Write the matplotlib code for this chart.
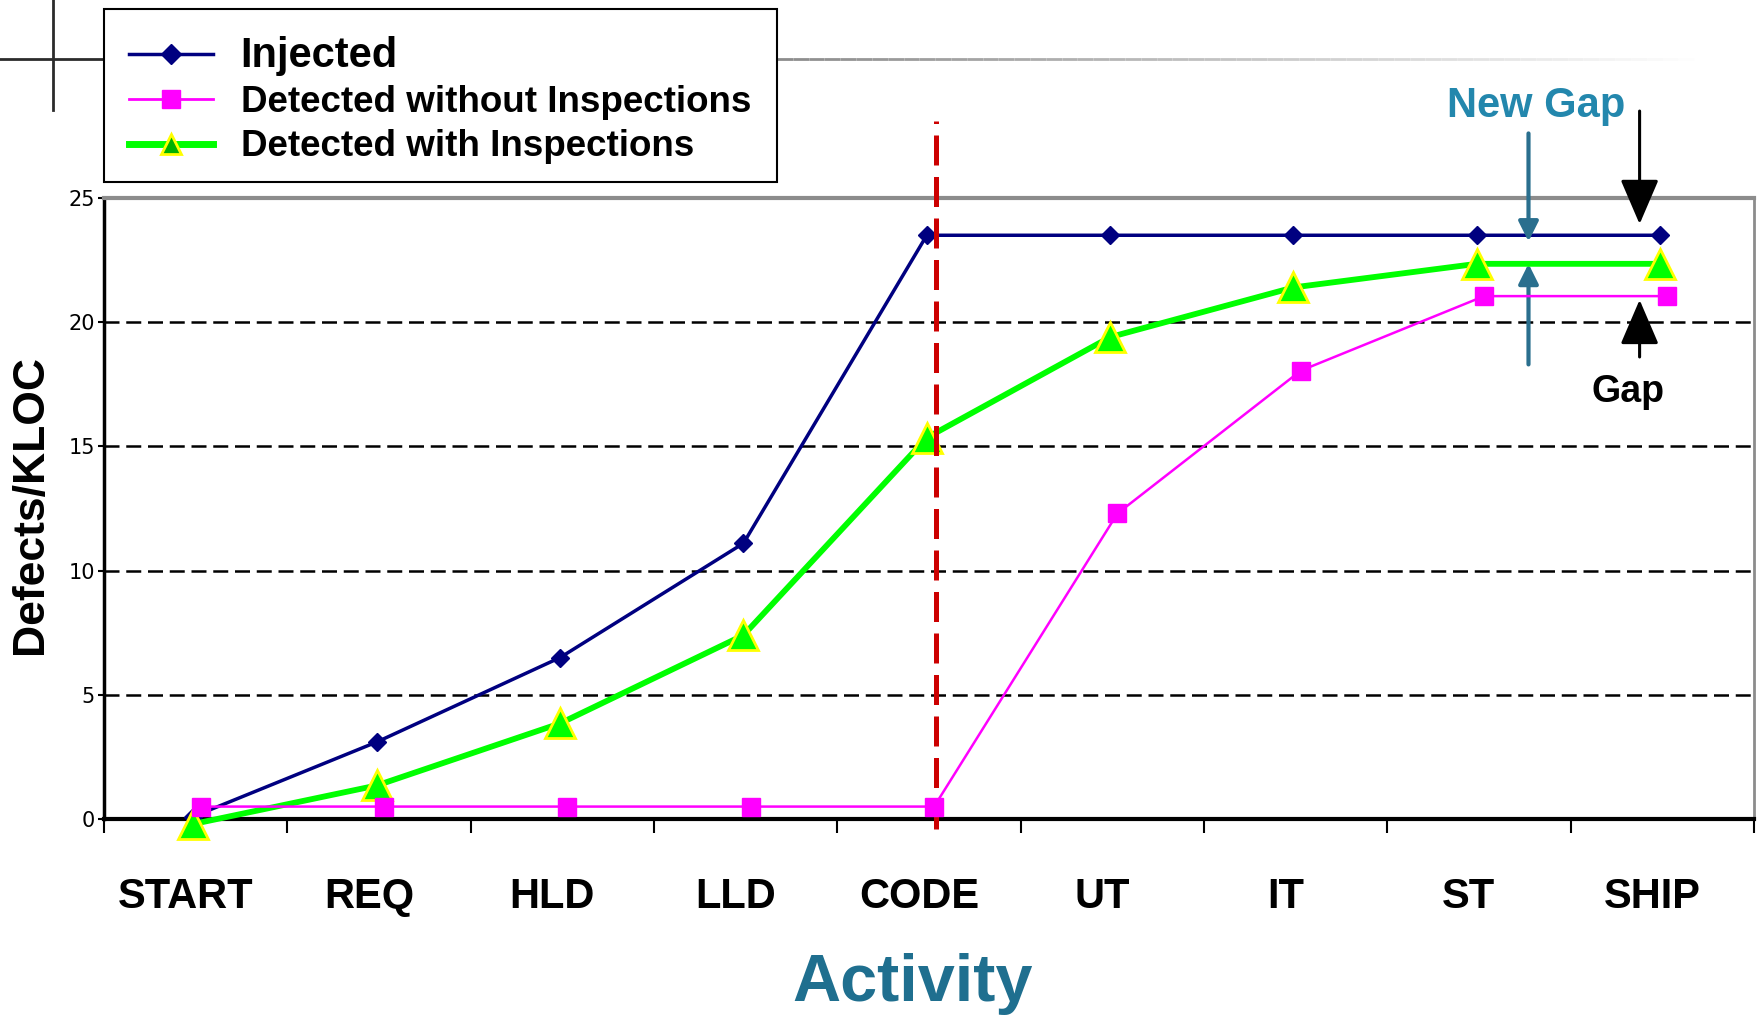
import matplotlib

matplotlib.use("Agg")
import matplotlib.pyplot as plt
import numpy as np
from matplotlib.collections import LineCollection
from matplotlib.lines import Line2D
from matplotlib.patches import Rectangle

categories = ["START", "REQ", "HLD", "LLD", "CODE", "UT", "IT", "ST", "SHIP"]
injected = [0.1, 3.1, 6.5, 11.1, 23.5, 23.5, 23.5, 23.5, 23.5]
detected_without = [0.5, 0.5, 0.5, 0.5, 0.5, 12.3, 18.05, 21.05, 21.05]
detected_with = [-0.2, 1.35, 3.85, 7.4, 15.35, 19.4, 21.4, 22.35, 22.35]
y_ticks = [0, 5, 10, 15, 20, 25]
grid_levels = [5, 10, 15, 20]
series_labels = ["Injected", "Detected without Inspections", "Detected with Inspections"]

BOLD = dict(family=["Liberation Sans", "DejaVu Sans"], weight="bold")
NAVY = "#000080"
MAGENTA = "#ff00ff"
LIME = "#00ff00"
TEAL = "#1f6f8f"
W, H = 1757, 1015

fig = plt.figure(figsize=(W / 100, H / 100), dpi=100)
ax = fig.add_axes([104 / W, 1 - 819 / H, (1754 - 104) / W, (819 - 198) / H])

x = np.arange(len(categories))
for level in grid_levels:
    ax.axhline(level, color="black", lw=1.8, dashes=(6, 2.7), zorder=1)

# code-complete marker
ax.plot([4.04, 4.04], [-0.4, 28.1], color="#cc0000", lw=3.6, dashes=(6, 2.3),
        clip_on=False, zorder=5)

ax.plot(x - 0.012, injected, color=NAVY, lw=2.5, marker="D", ms=9.5,
        clip_on=False, zorder=3)
ax.plot(x + 0.028, detected_without, color=MAGENTA, lw=1.8, marker="s", ms=13,
        clip_on=False, zorder=6)
ax.plot(x - 0.012, detected_with, color=LIME, lw=4.2, marker="^", ms=22,
        mfc=LIME, mec="#ffff00", mew=2, clip_on=False, zorder=4)

ax.set_xlim(-0.5, 8.5)
ax.set_ylim(0, 25)
ax.set_yticks(y_ticks)
ax.set_yticklabels([str(v) for v in y_ticks], fontsize=15, family="DejaVu Sans")
ax.tick_params(axis="y", direction="out", length=4.5, width=1.5, pad=2)
ax.set_xticks(np.arange(-0.5, 9.0, 1.0))
ax.set_xticklabels([])
ax.tick_params(axis="x", which="major", direction="out", length=10, width=1.5)
ax.set_xticks(x - 0.055, minor=True)
ax.set_xticklabels(categories, minor=True, fontsize=30, **BOLD)
ax.tick_params(axis="x", which="minor", length=0, pad=41.5)

ax.spines["left"].set_linewidth(2.5)
ax.spines["bottom"].set_linewidth(3)
ax.spines["top"].set_color("#8c8c8c")
ax.spines["top"].set_linewidth(3)
ax.spines["right"].set_color("#8c8c8c")
ax.spines["right"].set_linewidth(2)

# gap arrows
blue_arrow = dict(arrowstyle="-|>,head_width=0.3,head_length=0.6", color="#2a6f8e",
                  lw=3, shrinkA=0, shrinkB=0, mutation_scale=20)
black_arrow = dict(arrowstyle="-|>,head_width=0.6,head_length=1.4", color="black",
                   lw=2.2, shrinkA=0, shrinkB=0, mutation_scale=20)
ax.annotate("", xy=(7.27, 23.25), xytext=(7.27, 27.6), arrowprops=blue_arrow,
            annotation_clip=False)
ax.annotate("", xy=(7.27, 22.35), xytext=(7.27, 18.3), arrowprops=blue_arrow,
            annotation_clip=False)
ax.annotate("", xy=(7.876, 23.95), xytext=(7.876, 28.5), arrowprops=black_arrow,
            annotation_clip=False)
ax.annotate("", xy=(7.876, 20.9), xytext=(7.876, 18.6), arrowprops=black_arrow,
            annotation_clip=False)
ax.text(7.31, 28.7, "New Gap", color="#2387ad", fontsize=30, ha="center",
        va="center", **BOLD)
ax.text(7.815, 17.2, "Gap", color="black", fontsize=27, ha="center",
        va="center", **BOLD)

fig.text(913 / W, 1 - 984 / H, "Activity", color=TEAL, fontsize=48, ha="center",
         va="center", **BOLD)
fig.text(31 / W, 1 - 504 / H, "Defects/KLOC", fontsize=32, rotation=90,
         ha="center", va="center", **BOLD)

# slide decoration behind the legend
fig.add_artist(Line2D([0, 104 / W], [1 - 59 / H] * 2, color="#2b2b2b", lw=2))
fig.add_artist(Line2D([53 / W] * 2, [1, 1 - 110 / H], color="#2b2b2b", lw=2))
gx = np.linspace(777, 1710, 60) / W
segs = [[(gx[i], 1 - 59 / H), (gx[i + 1], 1 - 59 / H)] for i in range(len(gx) - 1)]
shades = np.linspace(0.55, 1.0, len(segs))
fig.add_artist(LineCollection(segs, colors=[(s, s, s) for s in shades], lw=2,
                              transform=fig.transFigure))

fig.add_artist(Rectangle((104 / W, 1 - 182 / H), (777 - 104) / W, (182 - 9) / H,
                         transform=fig.transFigure, facecolor="white",
                         edgecolor="black", lw=1.5, zorder=2))
handles = [
    Line2D([], [], color=NAVY, lw=2.5, marker="D", ms=10),
    Line2D([], [], color=MAGENTA, lw=2, marker="s", ms=13),
    Line2D([], [], color=LIME, lw=5, marker="^", ms=14, mfc="#00b000",
           mec="#ffff00", mew=2),
]
leg = fig.legend(handles, series_labels, loc="upper left",
                 bbox_to_anchor=(129 / W, 1 - 36 / H), frameon=False,
                 prop=dict(size=26.5, **BOLD), handlelength=2.28,
                 handletextpad=0.75, labelspacing=0.25, borderpad=0,
                 borderaxespad=0)
leg.set_zorder(3)
leg.get_texts()[0].set_fontsize(30)

fig.savefig("out.png", dpi=100)
